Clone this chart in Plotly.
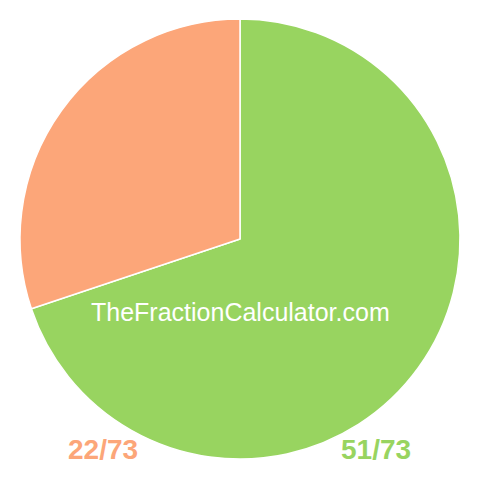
import plotly.graph_objects as go

# fraction parts
labels = ["51/73", "22/73"]
values = [51, 22]
colors = ["#98D460", "#FCA679"]

# the page body adds an 8px margin, so positions are shifted back by it
OFF = 8
W = 480

fig = go.Figure()

# pie, starting at 12 o'clock and going clockwise
fig.add_trace(
    go.Pie(
        labels=labels,
        values=values,
        sort=False,
        direction="clockwise",
        rotation=0,
        marker=dict(colors=colors, line=dict(color="white", width=1.5)),
        textinfo="none",
        hoverinfo="label",
        showlegend=False,
        domain=dict(x=[(20 - OFF) / W, (460 - OFF) / W],
                    y=[1 - (459 - OFF) / W, 1 - (19 - OFF) / W]),
    )
)

font_family = "Liberation Sans, Arial, sans-serif"

# watermark text and fraction labels
fig.add_annotation(
    x=(240 - OFF) / W, y=1 - (312 - OFF) / W, xref="paper", yref="paper",
    xanchor="center", yanchor="middle",
    text="TheFractionCalculator.com", showarrow=False,
    font=dict(family=font_family, size=25, color="white"),
)
fig.add_annotation(
    x=(103 - OFF) / W, y=1 - (449 - OFF) / W, xref="paper", yref="paper",
    xanchor="center", yanchor="middle",
    text="<b>" + labels[1] + "</b>", showarrow=False,
    font=dict(family=font_family, size=28, color=colors[1]),
)
fig.add_annotation(
    x=(376 - OFF) / W, y=1 - (449 - OFF) / W, xref="paper", yref="paper",
    xanchor="center", yanchor="middle",
    text="<b>" + labels[0] + "</b>", showarrow=False,
    font=dict(family=font_family, size=28, color=colors[0]),
)

fig.update_layout(
    width=W,
    height=W,
    margin=dict(l=0, r=0, t=0, b=0),
    paper_bgcolor="white",
    plot_bgcolor="white",
)

fig.write_html("out.html")
